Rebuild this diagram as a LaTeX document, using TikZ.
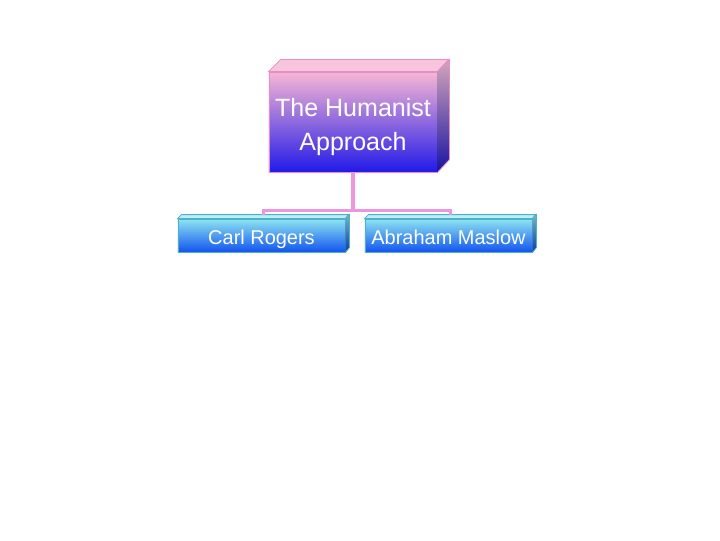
\documentclass[tikz,border=0pt]{standalone}
\usepackage{fontspec}
\setmainfont{Liberation Sans}
\usetikzlibrary{calc}
\definecolor{headpink}{RGB}{248,182,212}
\definecolor{headmid}{RGB}{200,140,230}
\definecolor{headblue}{RGB}{34,26,232}
\definecolor{headedge}{RGB}{232,140,200}
\definecolor{kidcyan}{RGB}{140,228,240}
\definecolor{kidblue}{RGB}{18,84,240}
\definecolor{kidedge}{RGB}{80,176,200}
\definecolor{linkpink}{RGB}{236,150,224}
\begin{document}
\begin{tikzpicture}[
	x=0.025cm, y=-0.025cm,
	headbox/.style={shape=rectangle, draw=headedge, line width=0.6pt, minimum width=4.2cm, minimum height=2.5cm, inner sep=0pt,
		top color=headpink, middle color=headmid, bottom color=headblue, text=white, align=center,
		text height=40pt, text depth=0pt, font=\fontsize{17.8}{24}\selectfont},
	kidbox/.style={shape=rectangle, draw=kidedge, line width=0.6pt, minimum width=4.175cm, minimum height=0.825cm, inner sep=0pt,
		top color=kidcyan, bottom color=kidblue, text=white, text height=13pt, text depth=0pt,
		font=\fontsize{14.2}{17}\selectfont},
	link/.style={linkpink, line width=2.6pt},
]
% canvas
\fill[white] (0,0) rectangle (720,540);

% main box
\node[headbox] (head) at (353,122) {The Humanist\\Approach};
\filldraw[draw=headedge, line width=0.6pt, fill=headpink!80!white] (head.north west) -- ++(12,-12) -- ++(168,0) -- (head.north east) -- cycle;
\shade[top color=headpink!70!gray, bottom color=headblue!70!black] (head.north east) -- ++(12,-12) -- ++(0,100) -- (head.south east) -- cycle;
\draw[headedge, line width=0.6pt] (head.north east) -- ++(12,-12) -- ++(0,100) -- (head.south east);

% people
\node[kidbox] (carl) at (261.5,235.5) {Carl Rogers};
\node[kidbox] (maslow) at (448.5,235.5) {Abraham Maslow};
\foreach \k in {carl, maslow} {
	\filldraw[draw=kidedge, line width=0.6pt, fill=kidcyan!60!white] (\k.north west) -- ++(4,-4) -- ++(167,0) -- (\k.north east) -- cycle;
	\shade[top color=kidcyan!80!black, bottom color=kidblue!70!black] (\k.north east) -- ++(4,-4) -- ++(0,33) -- (\k.south east) -- cycle;
	\draw[kidedge, line width=0.6pt] (\k.north east) -- ++(4,-4) -- ++(0,33) -- (\k.south east);
}

% connectors
\coordinate (fork) at ($(head.south)+(0,38)$);
\draw[link] (head.south) -- (fork);
\draw[link] (fork) -| ([shift={(2,-4)}]carl.north);
\draw[link] (fork) -| ([shift={(2,-4)}]maslow.north);
\end{tikzpicture}
\end{document}
